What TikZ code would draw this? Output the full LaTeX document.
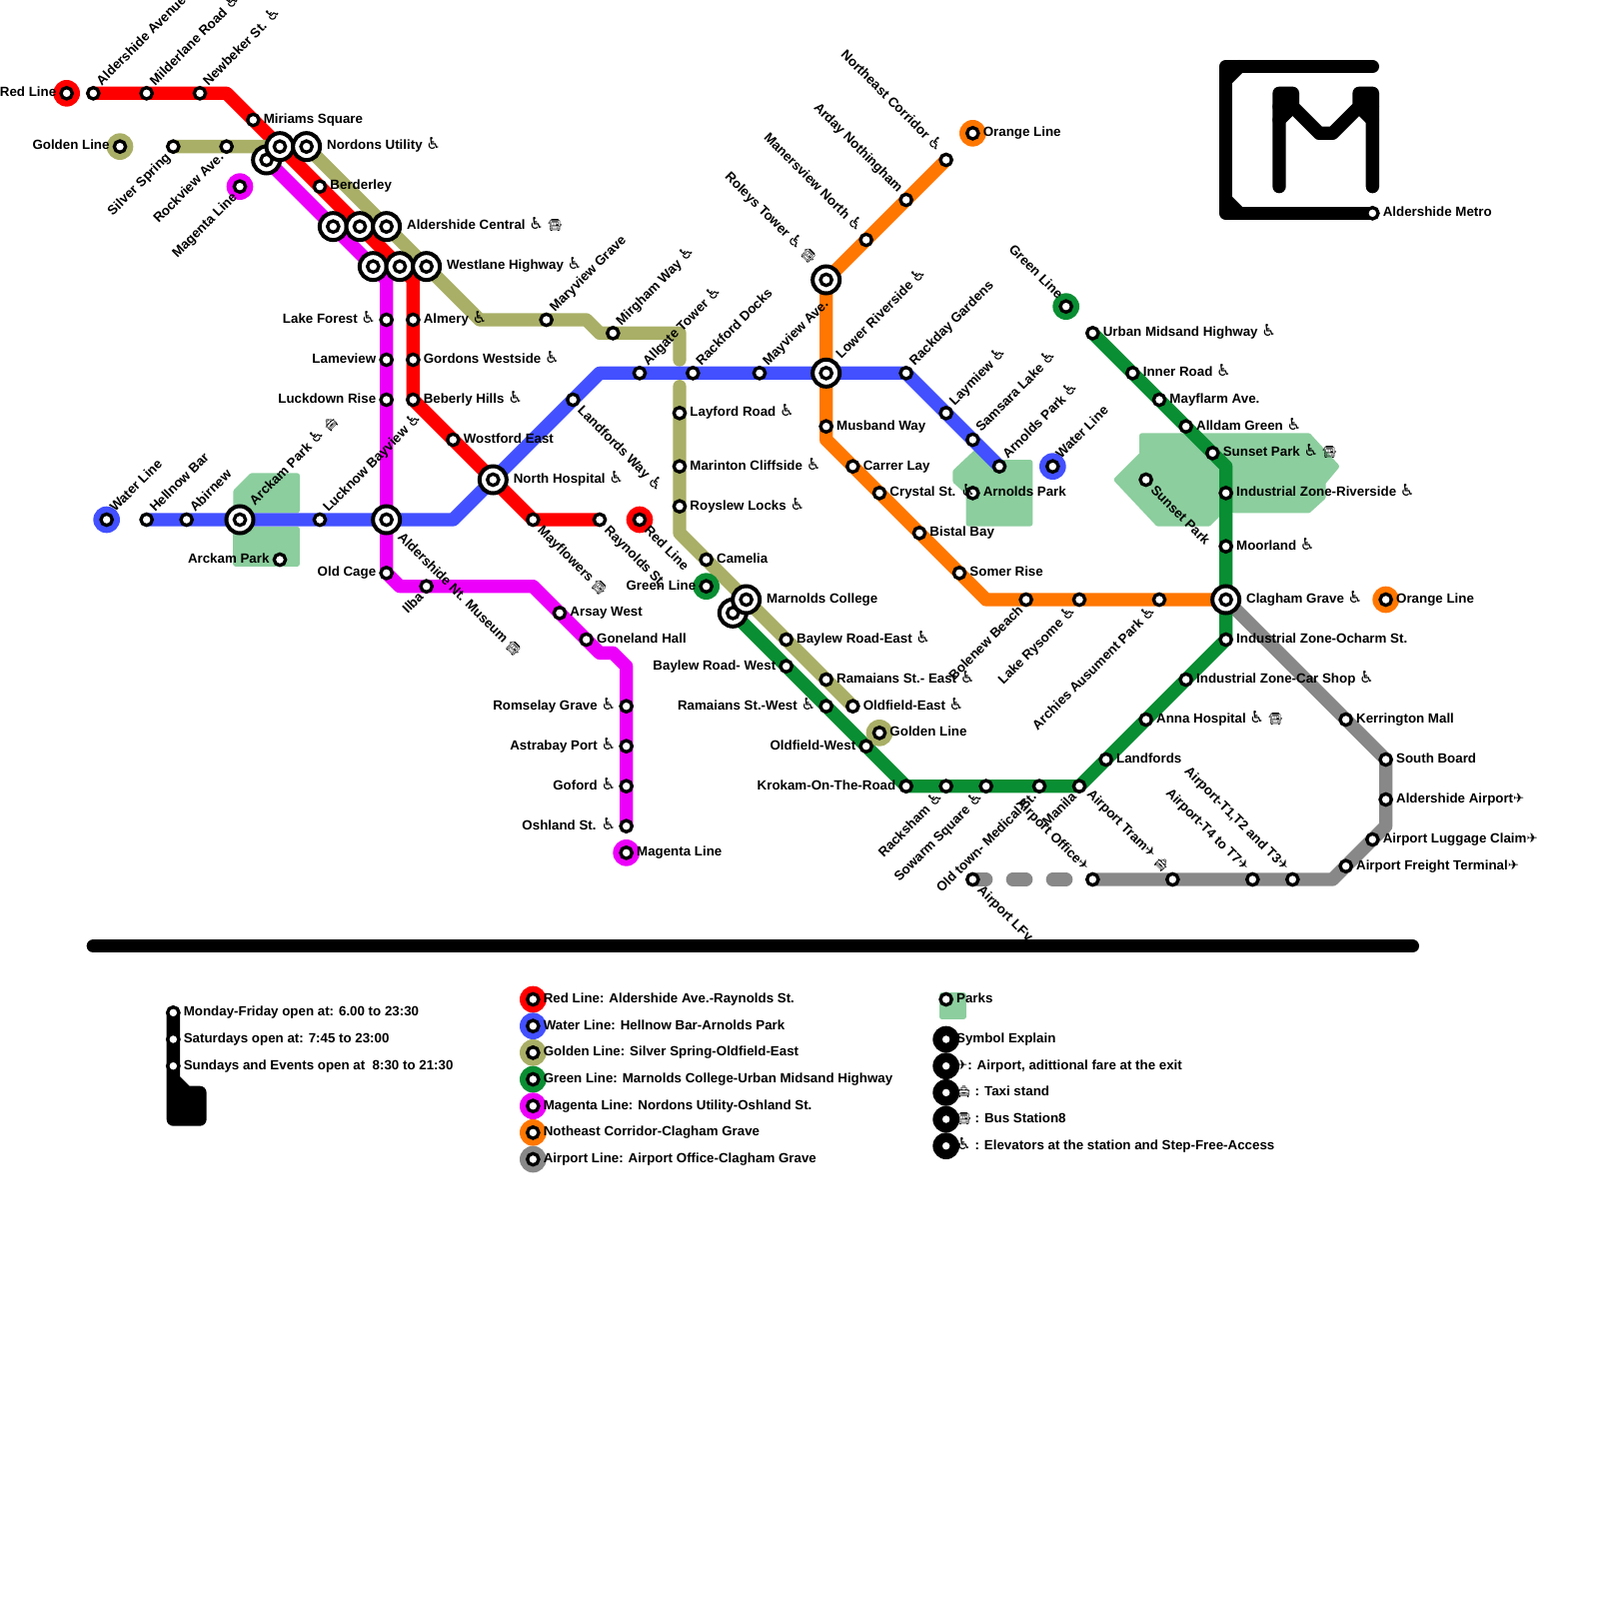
\documentclass[tikz,border=0pt]{standalone}
\usepackage{fontspec}
\setmainfont{Liberation Sans}
\newfontfamily\iconfont{DejaVu Sans}
\newfontfamily\emojifont{Noto Emoji}
\usetikzlibrary{backgrounds}
\definecolor{linered}{RGB}{255, 0, 0}
\definecolor{lineblue}{RGB}{66, 80, 255}
\definecolor{linegold}{RGB}{169, 175, 102}
\definecolor{linegreen}{RGB}{9, 142, 51}
\definecolor{linemagenta}{RGB}{236, 0, 250}
\definecolor{lineorange}{RGB}{255, 119, 0}
\definecolor{linegray}{RGB}{136, 136, 136}
\definecolor{parkgreen}{RGB}{140, 206, 158}
\newcommand{\whl}{{\mdseries\iconfont\fontsize{7}{8}\selectfont ♿}}
\newcommand{\aero}{{\mdseries\iconfont ✈}}
\newcommand{\coach}{{\mdseries\emojifont\fontsize{5}{6}\selectfont 🚍}}
\newcommand{\cab}{{\mdseries\emojifont\fontsize{5}{6}\selectfont 🚖}}

\begin{document}
\begin{tikzpicture}[
  x=2mm, y=-2mm,
  stn/.style={circle, draw=black, fill=white, line width=.5mm, minimum size=1.7mm, inner sep=0pt},
  ichg/.style={circle, draw=black, fill=white, line width=.6mm, minimum size=4.05mm, inner sep=0pt,
    path picture={\draw[line width=.5mm] (path picture bounding box.center) circle (.85mm);}},
  term/.style={circle, fill=#1, minimum size=4mm, inner sep=0pt,
    path picture={\draw[line width=.5mm, fill=white] (path picture bounding box.center) circle (.85mm);}},
  lbl/.style={inner sep=0pt, text height=1.4mm, text depth=.4mm, font=\fontsize{5.69}{6.5}\selectfont\bfseries},
  lblr/.style={lbl, anchor=west, xshift=1.5mm},
  lblri/.style={lbl, anchor=west, xshift=3mm},
  lbll/.style={lbl, anchor=east, xshift=-1.5mm},
  lblu/.style={lbl, rotate=45, anchor=west, xshift=1.6mm, yshift=.35mm},
  lblui/.style={lbl, rotate=45, anchor=west, xshift=3mm, yshift=.35mm},
  lbld/.style={lbl, rotate=-45, anchor=west, xshift=1.6mm, yshift=-.3mm},
  lbldi/.style={lbl, rotate=-45, anchor=west, xshift=3mm, yshift=-.3mm},
  lbldl/.style={lbl, rotate=45, anchor=east, xshift=-1.4mm, yshift=-.5mm},
  lblul/.style={lbl, rotate=-45, anchor=east, xshift=-1.6mm, yshift=.35mm},
  lblului/.style={lbl, rotate=-45, anchor=east, xshift=-3.2mm, yshift=.55mm},
  metro/.style={line width=2mm, line cap=round, line join=round},
  park/.style={draw=parkgreen, fill=parkgreen, line width=.8mm, line join=round}
]
  \useasboundingbox (0,0) rectangle (120,120);

  \node[term=linered] (redend) at (5,7) {};
  \node[lbll] (redendT) at (redend) {Red Line};
  \node[stn] (aldave) at (7,7) {};
  \node[lblu] (aldaveT) at (aldave) {Aldershide Avenue \whl};
  \node[stn] (milder) at (11,7) {};
  \node[lblu] (milderT) at (milder) {Milderlane Road \whl};
  \node[stn] (newbek) at (15,7) {};
  \node[lblu] (newbekT) at (newbek) {Newbeker St. \whl};
  \node[stn] (miriams) at (19,9) {};
  \node[lblr] (miriamsT) at (miriams) {Miriams Square};
  \node[ichg] (nordm) at (20,12) {};
  \node[ichg] (nordr) at (21,11) {};
  \node[ichg] (nordg) at (23,11) {};
  \node[lblri] (nordT) at (nordg) {Nordons Utility \whl};
  \node[stn] (berder) at (24,14) {};
  \node[lblr] (berderT) at (berder) {Berderley};
  \node[ichg] (aldcm) at (25,17) {};
  \node[ichg] (aldcr) at (27,17) {};
  \node[ichg] (aldcg) at (29,17) {};
  \node[lblri] (aldcT) at (aldcg) {Aldershide Central \whl\ \coach};
  \node[ichg] (westm) at (28,20) {};
  \node[ichg] (westr) at (30,20) {};
  \node[ichg] (westg) at (32,20) {};
  \node[lblri] (westT) at (westg) {Westlane Highway \whl};
  \node[stn] (almery) at (31,24) {};
  \node[lblr] (almeryT) at (almery) {Almery \whl};
  \node[stn] (gordons) at (31,27) {};
  \node[lblr] (gordonsT) at (gordons) {Gordons Westside \whl};
  \node[stn] (beberly) at (31,30) {};
  \node[lblr] (beberlyT) at (beberly) {Beberly Hills \whl};
  \node[stn] (wostford) at (34,33) {};
  \node[lblr] (wostfordT) at (wostford) {Wostford East};
  \node[ichg] (northh) at (37,36) {};
  \node[lblri] (northhT) at (northh) {North Hospital \whl};
  \node[stn] (mayflow) at (40,39) {};
  \node[lbld] (mayflowT) at (mayflow) {Mayflowers \coach};
  \node[stn] (raynolds) at (45,39) {};
  \node[lbld] (raynoldsT) at (raynolds) {Raynolds St.};
  \node[term=linered] (redend2) at (48,39) {};
  \node[lbld] (redend2T) at (redend2) {Red Line};

  \node[term=lineblue] (waterend) at (8,39) {};
  \node[lblu] (waterendT) at (waterend) {Water Line};
  \node[stn] (hellnow) at (11,39) {};
  \node[lblu] (hellnowT) at (hellnow) {Hellnow Bar};
  \node[stn] (abirnew) at (14,39) {};
  \node[lblu] (abirnewT) at (abirnew) {Abirnew};
  \node[ichg] (arckam) at (18,39) {};
  \node[lblui] (arckamT) at (arckam) {Arckam Park \whl\ \cab};
  \node[stn] (arckam2) at (21,42) {};
  \node[lbll] (arckam2T) at (arckam2) {Arckam Park};
  \node[stn] (lucknow) at (24,39) {};
  \node[lblu] (lucknowT) at (lucknow) {Lucknow Bayview \whl};
  \node[ichg] (museum) at (29,39) {};
  \node[lbldi] (museumT) at (museum) {Aldershide Nt. Museum \coach};
  \node[stn] (landfway) at (43,30) {};
  \node[lbld] (landfwayT) at (landfway) {Landfords Way \whl};
  \node[stn] (allgate) at (48,28) {};
  \node[lblu] (allgateT) at (allgate) {Allgate Tower \whl};
  \node[stn] (rackford) at (52,28) {};
  \node[lblu] (rackfordT) at (rackford) {Rackford Docks};
  \node[stn] (mayview) at (57,28) {};
  \node[lblu] (mayviewT) at (mayview) {Mayview Ave.};
  \node[ichg] (lowerr) at (62,28) {};
  \node[lblui] (lowerrT) at (lowerr) {Lower Riverside \whl};
  \node[stn] (rackday) at (68,28) {};
  \node[lblu] (rackdayT) at (rackday) {Rackday Gardens};
  \node[stn] (laymiew) at (71,31) {};
  \node[lblu] (laymiewT) at (laymiew) {Laymiew \whl};
  \node[stn] (samsara) at (73,33) {};
  \node[lblu] (samsaraT) at (samsara) {Samsara Lake \whl};
  \node[stn] (arnolds) at (75,35) {};
  \node[lblu] (arnoldsT) at (arnolds) {Arnolds Park \whl};
  \node[term=lineblue] (waterend2) at (79,35) {};
  \node[lblu] (waterend2T) at (waterend2) {Water Line};
  \node[stn] (arnolds2) at (73,37) {};
  \node[lblr] (arnolds2T) at (arnolds2) {Arnolds Park};

  \node[term=linegold] (goldend) at (9,11) {};
  \node[lbll] (goldendT) at (goldend) {Golden Line};
  \node[stn] (silver) at (13,11) {};
  \node[lbldl] (silverT) at (silver) {Silver Spring};
  \node[stn] (rockview) at (17,11) {};
  \node[lbldl] (rockviewT) at (rockview) {Rockview Ave.};
  \node[stn] (maryview) at (41,24) {};
  \node[lblu] (maryviewT) at (maryview) {Maryview Grave};
  \node[stn] (mirgham) at (46,25) {};
  \node[lblu] (mirghamT) at (mirgham) {Mirgham Way \whl};
  \node[stn] (layford) at (51,31) {};
  \node[lblr] (layfordT) at (layford) {Layford Road \whl};
  \node[stn] (marinton) at (51,35) {};
  \node[lblr] (marintonT) at (marinton) {Marinton Cliffside \whl};
  \node[stn] (royslew) at (51,38) {};
  \node[lblr] (royslewT) at (royslew) {Royslew Locks \whl};
  \node[stn] (camelia) at (53,42) {};
  \node[lblr] (cameliaT) at (camelia) {Camelia};
  \node[ichg] (marnoldsb) at (55,46) {};
  \node[ichg] (marnoldsa) at (56,45) {};
  \node[lblri] (marnoldsT) at (marnoldsa) {Marnolds College};
  \node[stn] (baylewe) at (59,48) {};
  \node[lblr] (baylewT) at (baylewe) {Baylew Road-East \whl};
  \node[stn] (ramaiane) at (62,51) {};
  \node[lblr] (ramaianT) at (ramaiane) {Ramaians St.- East \whl};
  \node[stn] (oldfe) at (64,53) {};
  \node[lblr] (oldfeT) at (oldfe) {Oldfield-East \whl};
  \node[term=linegold] (goldend2) at (66,55) {};
  \node[lblr] (goldend2T) at (goldend2) {Golden Line};

  \node[term=linegreen] (greenend) at (53,44) {};
  \node[lbll] (greenendT) at (greenend) {Green Line};
  \node[stn] (baylewW) at (59,50) {};
  \node[lbll] (baylewWT) at (baylewW) {Baylew Road- West};
  \node[stn] (ramaianW) at (62,53) {};
  \node[lbll] (ramaianWT) at (ramaianW) {Ramaians St.-West \whl};
  \node[stn] (oldfW) at (65,56) {};
  \node[lbll] (oldfWT) at (oldfW) {Oldfield-West};
  \node[stn] (krokam) at (68,59) {};
  \node[lbll] (krokamT) at (krokam) {Krokam-On-The-Road};
  \node[stn] (racksham) at (71,59) {};
  \node[lbldl] (rackshamT) at (racksham) {Racksham \whl};
  \node[stn] (sowarm) at (74,59) {};
  \node[lbldl] (sowarmT) at (sowarm) {Sowarm Square \whl};
  \node[stn] (oldtown) at (78,59) {};
  \node[lbldl] (oldtownT) at (oldtown) {Old town- Medical St.};
  \node[stn] (manila) at (81,59) {};
  \node[lbldl] (manilaT) at (manila) {Manila};
  \node[stn] (landfords) at (83,57) {};
  \node[lblr] (landfordsT) at (landfords) {Landfords};
  \node[stn] (annah) at (86,54) {};
  \node[lblr] (annahT) at (annah) {Anna Hospital \whl\ \coach};
  \node[stn] (carshop) at (89,51) {};
  \node[lblr] (carshopT) at (carshop) {Industrial Zone-Car Shop \whl};
  \node[stn] (ocharm) at (92,48) {};
  \node[lblr] (ocharmT) at (ocharm) {Industrial Zone-Ocharm St.};
  \node[ichg] (clagham) at (92,45) {};
  \node[lblri] (claghamT) at (clagham) {Clagham Grave \whl};
  \node[stn] (moorland) at (92,41) {};
  \node[lblr] (moorlandT) at (moorland) {Moorland \whl};
  \node[stn] (riverside) at (92,37) {};
  \node[lblr] (riversideT) at (riverside) {Industrial Zone-Riverside \whl};
  \node[stn] (sunset) at (91,34) {};
  \node[lblr] (sunsetT) at (sunset) {Sunset Park \whl\ \coach};
  \node[stn] (sunset2) at (86,36) {};
  \node[lbld] (sunset2T) at (sunset2) {Sunset Park};
  \node[stn] (alldam) at (89,32) {};
  \node[lblr] (alldamT) at (alldam) {Alldam Green \whl};
  \node[stn] (mayflarm) at (87,30) {};
  \node[lblr] (mayflarmT) at (mayflarm) {Mayflarm Ave.};
  \node[stn] (inner) at (85,28) {};
  \node[lblr] (innerT) at (inner) {Inner Road \whl};
  \node[stn] (urban) at (82,25) {};
  \node[lblr] (urbanT) at (urban) {Urban Midsand Highway \whl};
  \node[term=linegreen] (greenend2) at (80,23) {};
  \node[lblul] (greenend2T) at (greenend2) {Green Line};

  \node[term=linemagenta] (magend) at (18,14) {};
  \node[lbldl] (magendT) at (magend) {Magenta Line};
  \node[stn] (lakef) at (29,24) {};
  \node[lbll] (lakefT) at (lakef) {Lake Forest \whl};
  \node[stn] (lameview) at (29,27) {};
  \node[lbll] (lameviewT) at (lameview) {Lameview};
  \node[stn] (luckdown) at (29,30) {};
  \node[lbll] (luckdownT) at (luckdown) {Luckdown Rise};
  \node[stn] (oldcage) at (29,43) {};
  \node[lbll] (oldcageT) at (oldcage) {Old Cage};
  \node[stn] (ilba) at (32,44) {};
  \node[lbldl] (ilbaT) at (ilba) {Ilba};
  \node[stn] (arsay) at (42,46) {};
  \node[lblr] (arsayT) at (arsay) {Arsay West};
  \node[stn] (goneland) at (44,48) {};
  \node[lblr] (golandT) at (goneland) {Goneland Hall};
  \node[stn] (romselay) at (47,53) {};
  \node[lbll] (romselayT) at (romselay) {Romselay Grave \whl};
  \node[stn] (astrabay) at (47,56) {};
  \node[lbll] (astrabayT) at (astrabay) {Astrabay Port \whl};
  \node[stn] (goford) at (47,59) {};
  \node[lbll] (gofordT) at (goford) {Goford \whl};
  \node[stn] (oshland) at (47,62) {};
  \node[lbll] (oshlandT) at (oshland) {Oshland St. \whl};
  \node[term=linemagenta] (magend2) at (47,64) {};
  \node[lblr] (magend2T) at (magend2) {Magenta Line};

  \node[term=lineorange] (orangeend) at (73,10) {};
  \node[lblr] (orangeendT) at (orangeend) {Orange Line};
  \node[stn] (necorr) at (71,12) {};
  \node[lblul] (necorrT) at (necorr) {Northeast Corridor \whl};
  \node[stn] (arday) at (68,15) {};
  \node[lblul] (ardayT) at (arday) {Arday Nothingham};
  \node[stn] (manersv) at (65,18) {};
  \node[lblul] (manersvT) at (manersv) {Manersview North \whl};
  \node[ichg] (roleys) at (62,21) {};
  \node[lblului] (roleysT) at (roleys) {Roleys Tower \whl\ \coach};
  \node[stn] (musband) at (62,32) {};
  \node[lblr] (musbandT) at (musband) {Musband Way};
  \node[stn] (carrer) at (64,35) {};
  \node[lblr] (carrerT) at (carrer) {Carrer Lay};
  \node[stn] (crystal) at (66,37) {};
  \node[lblr] (crystalT) at (crystal) {Crystal St. \whl};
  \node[stn] (bistal) at (69,40) {};
  \node[lblr] (bistalT) at (bistal) {Bistal Bay};
  \node[stn] (somer) at (72,43) {};
  \node[lblr] (somerT) at (somer) {Somer Rise};
  \node[stn] (bolenew) at (77,45) {};
  \node[lbldl] (bolenewT) at (bolenew) {Bolenew Beach};
  \node[stn] (rysome) at (81,45) {};
  \node[lbldl] (rysomeT) at (rysome) {Lake Rysome \whl};
  \node[stn] (archies) at (87,45) {};
  \node[lbldl] (archiesT) at (archies) {Archies Ausument Park \whl};
  \node[term=lineorange] (orangeend2) at (104,45) {};
  \node[lblr] (orangeend2T) at (orangeend2) {Orange Line};

  \node[stn] (lfv) at (73,66) {};
  \node[lbld] (lfvT) at (lfv) {Airport LFv};
  \node[stn] (office) at (82,66) {};
  \node[lblul] (officeT) at (office) {Airport Office\aero};
  \node[stn] (tram) at (88,66) {};
  \node[lblul] (tramT) at (tram) {Airport Tram\aero\ \cab};
  \node[stn] (t4) at (94,66) {};
  \node[lblul] (t4T) at (t4) {Airport-T4 to T7\aero};
  \node[stn] (t1) at (97,66) {};
  \node[lblul] (t1T) at (t1) {Airport-T1,T2 and T3\aero};
  \node[stn] (freight) at (101,65) {};
  \node[lblr] (freightT) at (freight) {Airport Freight Terminal\aero};
  \node[stn] (luggage) at (103,63) {};
  \node[lblr] (luggageT) at (luggage) {Airport Luggage Claim\aero};
  \node[stn] (aldair) at (104,60) {};
  \node[lblr] (aldairT) at (aldair) {Aldershide Airport\aero};
  \node[stn] (south) at (104,57) {};
  \node[lblr] (southT) at (south) {South Board};
  \node[stn] (kerr) at (101,54) {};
  \node[lblr] (kerrT) at (kerr) {Kerrington Mall};

  \node[stn] (metro) at (103,16) {};
  \node[lblr] (metroT) at (metro) {Aldershide Metro};

  \node[stn] (weekday) at (13,76) {};
  \node[lblr] (weekdayT) at (weekday) {Monday-Friday open at: 6.00 to 23:30};
  \node[stn] (saturday) at (13,78) {};
  \node[lblr] (saturdayT) at (saturday) {Saturdays open at: 7:45 to 23:00};
  \node[stn] (sunday) at (13,80) {};
  \node[lblr] (sundayT) at (sunday) {Sundays and Events open at\ \ 8:30 to 21:30};

  \node[term=linered] (keyred) at (40,75) {};
  \node[lblr] (keyredT) at (keyred) {Red Line: Aldershide Ave.-Raynolds St.};
  \node[term=lineblue] (keyblue) at (40,77) {};
  \node[lblr] (keyblueT) at (keyblue) {Water Line: Hellnow Bar-Arnolds Park};
  \node[term=linegold] (keygold) at (40,79) {};
  \node[lblr] (keygoldT) at (keygold) {Golden Line: Silver Spring-Oldfield-East};
  \node[term=linegreen] (keygreen) at (40,81) {};
  \node[lblr] (keygreenT) at (keygreen) {Green Line: Marnolds College-Urban Midsand Highway};
  \node[term=linemagenta] (keymag) at (40,83) {};
  \node[lblr] (keymagT) at (keymag) {Magenta Line: Nordons Utility-Oshland St.};
  \node[term=lineorange] (keyorange) at (40,85) {};
  \node[lblr] (keyorangeT) at (keyorange) {Notheast Corridor-Clagham Grave};
  \node[term=linegray] (keygray) at (40,87) {};
  \node[lblr] (keygrayT) at (keygray) {Airport Line: Airport Office-Clagham Grave};

  \node[stn] (keypark) at (71,75) {};
  \node[lblr] (keyparkT) at (keypark) {Parks};
  \node[term=black] (sym) at (71,78) {};
  \node[lblr] (symT) at (sym) {Symbol Explain};
  \node[term=black] (symair) at (71,80) {};
  \node[lblr] (symairT) at (symair) {\aero: Airport, adittional fare at the exit};
  \node[term=black] (symcab) at (71,82) {};
  \node[lblr] (symcabT) at (symcab) {\cab\ : Taxi stand};
  \node[term=black] (symbus) at (71,84) {};
  \node[lblr] (symbusT) at (symbus) {\coach\ : Bus Station8};
  \node[term=black] (symwhl) at (71,86) {};
  \node[lblr] (symwhlT) at (symwhl) {\whl\ : Elevators at the station and Step-Free-Access};

  \coordinate (redA) at (17,7);
  \coordinate (redB) at (31,21);
  \coordinate (blueA) at (34,39);
  \coordinate (blueB) at (45,28);
  \coordinate (goldA) at (36,24);
  \coordinate (goldB) at (44,24);
  \coordinate (goldC) at (45,25);
  \coordinate (goldD) at (51,25);
  \coordinate (goldE) at (51,27);
  \coordinate (goldF) at (51,29);
  \coordinate (goldG) at (51,40);
  \coordinate (greenA) at (92,35);
  \coordinate (magA) at (29,21);
  \coordinate (magB) at (30,44);
  \coordinate (magC) at (40,44);
  \coordinate (magD) at (45,49);
  \coordinate (magE) at (46,49);
  \coordinate (magF) at (47,50);
  \coordinate (orangeA) at (62,33);
  \coordinate (orangeB) at (74,45);
  \coordinate (grayA) at (100,66);
  \coordinate (grayB) at (104,62);
  \coordinate (ruleA) at (7,71);
  \coordinate (ruleB) at (106,71);

  \begin{pgfonlayer}{background}
    \draw[park] (18.9,35.7) -- (22.3,35.7) -- (22.3,38.3) -- (17.7,38.3) -- (17.7,36.9) -- cycle;
    \draw[park] (17.7,39.7) -- (22.3,39.7) -- (22.3,42.3) -- (17.7,42.3) -- cycle;
    \draw[park] (73.4,33.8) -- (75,34.7) -- (77.3,34.7) -- (77.3,39.3) -- (72.7,39.3) -- (72.7,37) -- (71.7,36.1) -- (71.7,35.4) -- cycle;
    \draw[park] (85.7,32.7) -- (98.2,32.7) -- (100.3,35) -- (99.3,36.2) -- (99.3,37.3) -- (98.2,38.3) -- (92.6,38.3) -- (92,38) -- (90.7,39.3) -- (86.9,39.3) -- (83.8,36) -- (85.7,34.1) -- cycle;
    \draw[park] (70.7,74.7) -- (72.3,74.7) -- (72.3,76.3) -- (70.7,76.3) -- cycle;

    \draw[metro, linemagenta] (nordm.center) -- (aldcm.center) -- (westm.center) -- (magA) -- (lakef.center) -- (museum.center) -- (oldcage.center) -- (magB) -- (ilba.center) -- (magC) -- (arsay.center) -- (goneland.center) -- (magD) -- (magE) -- (magF) -- (oshland.center);
    \draw[metro, linered] (aldave.center) -- (redA) -- (miriams.center) -- (nordr.center) -- (berder.center) -- (aldcr.center) -- (westr.center) -- (redB) -- (beberly.center) -- (northh.center) -- (mayflow.center) -- (raynolds.center);
    \draw[metro, linegold] (silver.center) -- (nordg.center) -- (aldcg.center) -- (westg.center) -- (goldA) -- (goldB) -- (goldC) -- (goldD) -- (goldE);
    \draw[metro, linegold] (goldF) -- (goldG) -- (camelia.center) -- (marnoldsa.center) -- (oldfe.center);
    \draw[metro, lineorange] (necorr.center) -- (roleys.center) -- (orangeA) -- (orangeB) -- (clagham.center);
    \draw[metro, linegray, dash pattern=on 2mm off 4mm] (lfv.center) -- (office.center);
    \draw[metro, linegray] (office.center) -- (grayA) -- (luggage.center) -- (grayB) -- (south.center) -- (clagham.center);
    \draw[metro, linegreen] (marnoldsb.center) -- (krokam.center) -- (manila.center) -- (ocharm.center) -- (greenA) -- (urban.center);
    \draw[metro, lineblue] (hellnow.center) -- (blueA) -- (blueB) -- (rackday.center) -- (arnolds.center);

    \draw[metro, black] (103,5) -- (92,5) -- (92,16) -- (metro.center);
    \draw[metro, black] (93,5) -- (92,6);
    \draw[metro, black] (92,15) -- (93,16);
    \draw[metro, black] (96,14) -- (96,7) -- (97,7) -- (97,8) -- (99,10) -- (100,10) -- (102,8) -- (102,7) -- (103,7) -- (103,14);
    \draw[metro, black] (96,8) -- (97,8) -- (96,9);
    \draw[metro, black] (103,8) -- (102,8) -- (103,9);
    \draw[metro, black] (ruleA) -- (ruleB);
    \draw[metro, black, fill=black] (weekday.center) -- (13,81) -- (14,82) -- (15,82) -- (15,84) -- (13,84) -- (13,81);
  \end{pgfonlayer}
\end{tikzpicture}
\end{document}
